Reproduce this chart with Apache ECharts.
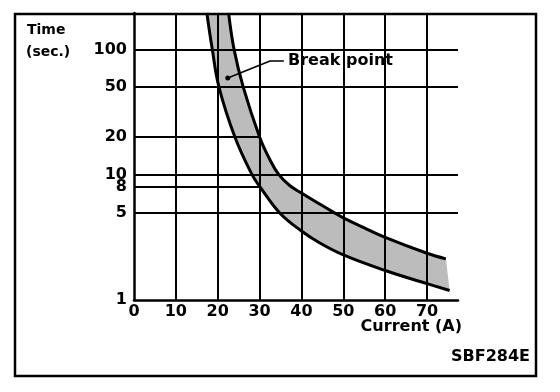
<!DOCTYPE html>
<html><head><meta charset="utf-8">
<script src="https://cdn.jsdelivr.net/npm/echarts@6/dist/echarts.min.js"></script>
<style>html,body{margin:0;padding:0;background:#fff}#c{width:560px;height:392px}</style>
</head><body><div id="c"></div>
<script>
// Data
const xTicks = [0, 10, 20, 30, 40, 50, 60, 70];
const yTicks = [1, 5, 8, 10, 20, 50, 100];
const fullHLines = [100, 50, 10, 5];
const partialHLines = [20, 8];
const partialHLineEnd = 30;
const vLines = [10, 20, 30, 40, 50, 60, 70];
// lower (left) boundary of the fuse band: [current A, time s]
const lowerCurve = [[17.4, 195], [18.7, 100], [20.3, 50], [24.1, 20], [28.2, 10], [30.1, 8], [34.7, 5], [40, 3.55], [44.4, 2.85], [50, 2.29], [60, 1.72], [70, 1.35], [75.4, 1.19]];
// upper (right) boundary
const upperCurve = [[22.6, 195], [23.9, 100], [26.1, 50], [30.0, 20], [32.5, 13.1], [34.6, 10], [37.2, 8.2], [40.1, 7.1], [43.9, 5.95], [47.7, 5], [50, 4.52], [54.9, 3.78], [60, 3.16], [70, 2.36], [74.5, 2.13]];
const breakLeader = [[22.4, 59], [32.5, 80.8], [35.8, 80.8]];
const xMax = 77.4, yMin = 1, yMax = 195;

const FONT = 'DejaVu Sans';
const chart = echarts.init(document.getElementById('c'), null, {renderer: 'canvas'});
const bandPoly = lowerCurve.concat(upperCurve.slice().reverse());
const lineStyleGrid = {color: '#000', width: 2, type: 'solid'};
const mk = [];
fullHLines.forEach(v => mk.push([{coord: [0, v]}, {coord: [xMax, v]}]));
partialHLines.forEach(v => mk.push([{coord: [0, v]}, {coord: [partialHLineEnd, v]}]));
vLines.forEach(v => mk.push([{coord: [v, yMin]}, {coord: [v, yMax]}]));

chart.setOption({
  animation: false,
  backgroundColor: '#fff',
  grid: {left: 134, top: 13, width: 324, height: 287, containLabel: false},
  xAxis: {
    type: 'value', min: 0, max: xMax,
    axisLine: {show: true, lineStyle: {color: '#000', width: 2.5}},
    axisTick: {show: false}, splitLine: {show: false},
    axisLabel: {customValues: xTicks, color: '#000', fontFamily: FONT, fontWeight: 'bold', fontSize: 16, margin: 4}
  },
  yAxis: {
    type: 'log', logBase: 10, min: yMin, max: yMax,
    axisLine: {show: true, lineStyle: {color: '#000', width: 2.5}},
    axisTick: {show: false}, splitLine: {show: false}, axisLabel: {show: false}
  },
  series: [
    {
      type: 'custom', clip: true, silent: true, z: 1,
      data: [0],
      renderItem: function (params, api) {
        const pts = bandPoly.map(p => api.coord(p));
        return {type: 'polygon', shape: {points: pts}, style: {fill: '#bcbcbc', stroke: null}};
      }
    },
    {
      type: 'line', data: [], z: 2, silent: true,
      markLine: {symbol: 'none', silent: true, label: {show: false}, lineStyle: lineStyleGrid, data: mk}
    },
    {type: 'line', data: lowerCurve, smooth: 0.4, symbol: 'none', z: 3, clip: true, lineStyle: {color: '#000', width: 3}},
    {type: 'line', data: upperCurve, smooth: 0.4, symbol: 'none', z: 3, clip: true, lineStyle: {color: '#000', width: 3}},
    {type: 'line', data: breakLeader, symbol: 'none', z: 4, lineStyle: {color: '#000', width: 1.5}},
    {type: 'scatter', data: [breakLeader[0]], symbol: 'circle', symbolSize: 5, z: 5, itemStyle: {color: '#000', opacity: 1}},
    {
      type: 'scatter', clip: false, z: 5, symbolSize: 0, silent: true,
      itemStyle: {opacity: 1, color: '#000'},
      emphasis: {disabled: true},
      data: yTicks.map(v => [0, v]),
      label: {show: true, position: 'left', distance: 7, formatter: p => String(p.value[1]), color: '#000', opacity: 1, fontFamily: FONT, fontWeight: 'bold', fontSize: 16}
    }
  ],
  graphic: [
    {type: 'rect', shape: {x: 15, y: 14, width: 521, height: 362}, style: {fill: null, stroke: '#000', lineWidth: 2.5}, z: 10},
    {type: 'text', left: 27, top: 23, style: {text: 'Time', font: 'bold 14px "DejaVu Sans"', fill: '#000'}},
    {type: 'text', left: 26, top: 45, style: {text: '(sec.)', font: 'bold 14px "DejaVu Sans"', fill: '#000'}},
    {type: 'text', left: 288, top: 53, style: {text: 'Break point', font: 'bold 16px "DejaVu Sans"', fill: '#000'}},
    {type: 'text', right: 98, top: 319, style: {text: 'Current (A)', font: 'bold 16px "DejaVu Sans"', fill: '#000'}},
    {type: 'text', right: 30, top: 349, style: {text: 'SBF284E', font: 'bold 16px "DejaVu Sans"', fill: '#000'}}
  ]
});
</script></body></html>
